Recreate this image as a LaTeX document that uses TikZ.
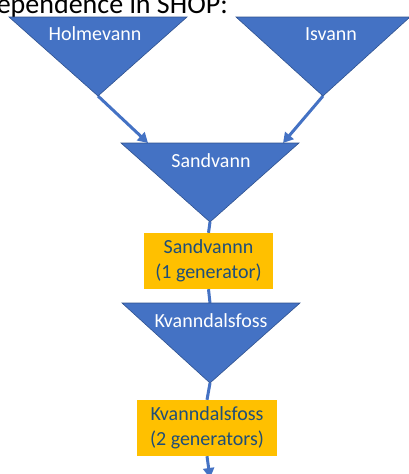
\documentclass[tikz,border=0pt]{standalone}
\usepackage{fontspec}
\setmainfont{Carlito}
\usetikzlibrary{arrows.meta}
\definecolor{triblue}{HTML}{4472C4}
\definecolor{triedge}{HTML}{2F528F}
\definecolor{boxorange}{HTML}{FFC000}
\definecolor{boxtext}{HTML}{1F4E79}
\tikzset{
  tri/.style={fill=triblue, draw=triedge, line width=0.6pt},
  trilabel/.style={text=white, font=\fontsize{20}{24}\selectfont, anchor=base, inner sep=0pt},
  genbox/.style={fill=boxorange, draw=none, text=boxtext, align=center,
    font=\fontsize{20}{25}\selectfont, inner sep=0pt},
  conn/.style={draw=triblue, line width=3pt},
  arr/.style={conn, -{Triangle[length=10pt,width=11pt]}},
}
\begin{document}
\begin{tikzpicture}[x=1pt,y=-1pt]
\useasboundingbox (0,0) rectangle (409,474);
\clip (0,0) rectangle (409,474);
\node[anchor=base east, inner sep=0pt, font=\fontsize{28}{32}\selectfont, text=black] (title) at (228,13) {Dependence in SHOP:};

% apex / edge coordinates
\coordinate (holmapex) at (98,96);
\coordinate (isvapex) at (323,96);
\coordinate (sandL) at (148,143);
\coordinate (sandR) at (283,143);
\coordinate (sandapex) at (210,222);
\coordinate (kvtop) at (210,303);
\coordinate (kvapex) at (210,383);
\coordinate (outlet) at (210,478);

% boxes (drawn first so lines can go under triangles)
\node[genbox, minimum width=129pt, minimum height=56pt] (box1) at (208.5,261) {Sandvannn\\(1 generator)};
\node[genbox, minimum width=140pt, minimum height=56pt] (box2) at (207,428) {Kvanndalsfoss\\(2 generators)};

% connectors
\draw[arr] (holmapex) -- (sandL);
\draw[arr] (isvapex) -- (sandR);
\draw[conn] (sandapex) -- (box1.north);
\draw[conn] (box1.south) -- (kvtop);
\draw[conn] (kvapex) -- (box2.north);
\draw[arr] (box2.south) -- (outlet);

% triangles
\draw[tri] (9,17) -- (187,17) -- (holmapex) -- cycle;
\draw[tri] (236,17) -- (410,17) -- (isvapex) -- cycle;
\draw[tri] (121,143) -- (299,143) -- (sandapex) -- cycle;
\draw[tri] (122,303) -- (300,303) -- (kvapex) -- cycle;

\node[trilabel] (holm) at (95,40) {Holmevann};
\node[trilabel] (isv) at (331,40) {Isvann};
\node[trilabel] (sand) at (211,167) {Sandvann};
\node[trilabel] (kv) at (211,327) {Kvanndalsfoss};
\end{tikzpicture}
\end{document}
